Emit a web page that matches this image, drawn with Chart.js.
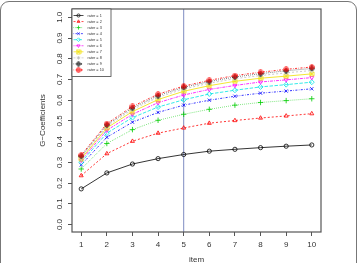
<!DOCTYPE html>
<html>
<head>
<meta charset="utf-8">
<script src="https://cdn.jsdelivr.net/npm/chart.js@4"></script>
<style>
html, body { margin: 0; padding: 0; background: #fff; }
#wrap { position: relative; width: 361px; height: 263px; overflow: hidden; }
#frame { position: absolute; left: 0; top: 1px; width: 355px; height: 300px; border: 1.3px solid #777; border-radius: 9px; }
canvas { position: absolute; left: 0; top: 0; }
</style>
</head>
<body>
<div id="wrap">
  <div id="frame"></div>
  <canvas id="chart" width="361" height="263"></canvas>
</div>
<script>
const items = [1, 2, 3, 4, 5, 6, 7, 8, 9, 10];
const yTicks = [0, 0.1, 0.2, 0.3, 0.4, 0.5, 0.6, 0.7, 0.8, 0.9, 1.0];
const refItem = 5;

const rater1  = [0.172, 0.249, 0.292, 0.318, 0.338, 0.354, 0.363, 0.371, 0.378, 0.384];
const rater2  = [0.236, 0.342, 0.402, 0.441, 0.466, 0.489, 0.502, 0.514, 0.524, 0.535];
const rater3  = [0.268, 0.391, 0.458, 0.503, 0.532, 0.556, 0.576, 0.589, 0.598, 0.607];
const rater4  = [0.288, 0.421, 0.494, 0.541, 0.576, 0.600, 0.619, 0.634, 0.644, 0.655];
const rater5  = [0.301, 0.441, 0.516, 0.567, 0.602, 0.630, 0.648, 0.664, 0.675, 0.687];
const rater6  = [0.310, 0.455, 0.532, 0.588, 0.625, 0.652, 0.671, 0.688, 0.698, 0.709];
const rater7  = [0.318, 0.466, 0.545, 0.603, 0.643, 0.670, 0.691, 0.706, 0.716, 0.727];
const rater8  = [0.324, 0.474, 0.555, 0.614, 0.654, 0.682, 0.704, 0.719, 0.732, 0.743];
const rater9  = [0.330, 0.481, 0.563, 0.622, 0.662, 0.690, 0.712, 0.728, 0.742, 0.753];
const rater10 = [0.335, 0.487, 0.570, 0.629, 0.668, 0.696, 0.719, 0.735, 0.749, 0.760];

const raterSeries = [rater1, rater2, rater3, rater4, rater5, rater6, rater7, rater8, rater9, rater10];
const raterLabels = raterSeries.map((_, i) => "rater = " + (i + 1));

// R default palette / lty / pch cycling
const colors = ["#000000", "#FF0000", "#00CD00", "#0000FF", "#00E5E5", "#FF00FF", "#F0E000", "#BEBEBE", "#000000", "#FF0000"];
const dashes = [[], [2, 2], [0.6, 1.4], [0.6, 1.4, 2, 1.4], [3.5, 1.5], [1, 1, 3, 1], [], [2, 2], [0.6, 1.4], [0.6, 1.4, 2, 1.4]];

function marker(color, kind) {
    const c = document.createElement("canvas");
    c.width = 6; c.height = 6;
    const g = c.getContext("2d");
    g.strokeStyle = color;
    g.lineWidth = 0.8;
    g.beginPath();
    if (kind === "boxx") {
        g.rect(1, 1, 4, 4);
        g.moveTo(1, 1); g.lineTo(5, 5);
        g.moveTo(5, 1); g.lineTo(1, 5);
    } else if (kind === "diamondplus") {
        g.moveTo(3, 0.5); g.lineTo(5.5, 3); g.lineTo(3, 5.5); g.lineTo(0.5, 3); g.closePath();
        g.moveTo(3, 0.5); g.lineTo(3, 5.5);
        g.moveTo(0.5, 3); g.lineTo(5.5, 3);
    } else if (kind === "circleplus") {
        g.arc(3, 3, 2.3, 0, Math.PI * 2);
        g.moveTo(3, 0.7); g.lineTo(3, 5.3);
        g.moveTo(0.7, 3); g.lineTo(5.3, 3);
    }
    g.stroke();
    return c;
}

const pointStyles = [
    "circle", "triangle", "cross", "crossRot", "rectRot", "triangle",
    marker(colors[6], "boxx"), "star", marker(colors[8], "diamondplus"), marker(colors[9], "circleplus")
];
const pointRotations = [0, 0, 0, 0, 0, 180, 0, 0, 0, 0];
const pointRadii = [2.1, 2.3, 2.7, 2.3, 2.5, 2.3, 3, 2.4, 3, 3];

const datasets = raterSeries.map((vals, i) => ({
    label: raterLabels[i],
    data: vals.map((v, j) => ({ x: items[j], y: v })),
    borderColor: colors[i],
    borderWidth: 0.8,
    borderDash: dashes[i],
    pointStyle: pointStyles[i],
    rotation: pointRotations[i],
    pointRadius: pointRadii[i],
    pointBorderColor: colors[i],
    pointBackgroundColor: "rgba(0,0,0,0)",
    pointBorderWidth: 0.8,
    tension: 0,
    order: raterSeries.length - i
}));

const textFont = "'Liberation Sans', Arial, sans-serif";

const extras = {
    id: "extras",
    beforeDatasetsDraw(chart) {
        const { ctx, chartArea: a, scales: { x } } = chart;
        const px = x.getPixelForValue(refItem);
        ctx.save();
        ctx.strokeStyle = "#7f8dc2";
        ctx.lineWidth = 1;
        ctx.beginPath();
        ctx.moveTo(px, a.top);
        ctx.lineTo(px, a.bottom);
        ctx.stroke();
        ctx.restore();
    },
    afterDraw(chart) {
        const { ctx, chartArea: a, scales: { y } } = chart;
        ctx.save();

        // plot box
        ctx.strokeStyle = "#555";
        ctx.lineWidth = 1.2;
        ctx.strokeRect(a.left, a.top, a.right - a.left, a.bottom - a.top);

        // rotated y tick labels
        ctx.fillStyle = "#333";
        ctx.font = "8px " + textFont;
        ctx.textAlign = "center";
        ctx.textBaseline = "middle";
        yTicks.forEach(v => {
            ctx.save();
            ctx.translate(a.left - 12.5, y.getPixelForValue(v));
            ctx.rotate(-Math.PI / 2);
            ctx.fillText(v.toFixed(1), 0, 0);
            ctx.restore();
        });

        // axis titles
        ctx.save();
        ctx.translate(a.left - 29.5, (a.top + a.bottom) / 2);
        ctx.rotate(-Math.PI / 2);
        ctx.fillText("G\u2212Coefficients", 0, 0);
        ctx.restore();
        ctx.fillText("item", (a.left + a.right) / 2, a.bottom + 27.5);

        // legend (topleft, inset 0)
        const lx = a.left, ly = a.top, lw = 39, rowH = 6.05;
        ctx.fillStyle = "#fff";
        ctx.fillRect(lx, ly, lw, rowH * datasets.length + 7);
        ctx.strokeStyle = "#444";
        ctx.lineWidth = 0.8;
        ctx.strokeRect(lx, ly, lw, rowH * datasets.length + 7);
        ctx.font = "3.8px " + textFont;
        ctx.textAlign = "left";
        chart.data.datasets.forEach((ds, i) => {
            const ry = ly + 6.5 + i * rowH;
            ctx.save();
            ctx.strokeStyle = ds.borderColor;
            ctx.lineWidth = 0.7;
            ctx.setLineDash(ds.borderDash);
            ctx.beginPath();
            ctx.moveTo(lx + 1.5, ry);
            ctx.lineTo(lx + 11.5, ry);
            ctx.stroke();
            ctx.setLineDash([]);
            ctx.fillStyle = "rgba(0,0,0,0)";
            Chart.helpers.drawPoint(ctx, {
                pointStyle: ds.pointStyle,
                rotation: ds.rotation,
                radius: ds.pointRadius * 0.75,
                borderWidth: 0.7
            }, lx + 6.5, ry);
            ctx.restore();
            ctx.fillStyle = "#333";
            ctx.fillText(ds.label, lx + 15.5, ry);
        });
        ctx.restore();
    }
};

new Chart(document.getElementById("chart"), {
    type: "line",
    data: { datasets: datasets },
    options: {
        responsive: false,
        animation: false,
        events: [],
        layout: { padding: { top: 9, right: 40, bottom: 0, left: 0 } },
        plugins: { legend: { display: false }, tooltip: { enabled: false } },
        scales: {
            x: {
                type: "linear",
                min: 0.64,
                max: 10.36,
                afterBuildTicks: s => { s.ticks = items.map(v => ({ value: v })); },
                afterFit: s => { s.height = 31; },
                border: { display: false },
                grid: { drawOnChartArea: false, drawTicks: true, tickLength: 4, color: "#555", lineWidth: 1 },
                ticks: { color: "#333", font: { family: textFont, size: 8 }, padding: 4, maxRotation: 0, autoSkip: false }
            },
            y: {
                type: "linear",
                min: -0.036,
                max: 1.04,
                afterBuildTicks: s => { s.ticks = yTicks.map(v => ({ value: v })); },
                afterFit: s => { s.width = 72; },
                border: { display: false },
                grid: { drawOnChartArea: false, drawTicks: true, tickLength: 4, color: "#555", lineWidth: 1 },
                ticks: { display: false }
            }
        }
    },
    plugins: [extras]
});
</script>
</body>
</html>
